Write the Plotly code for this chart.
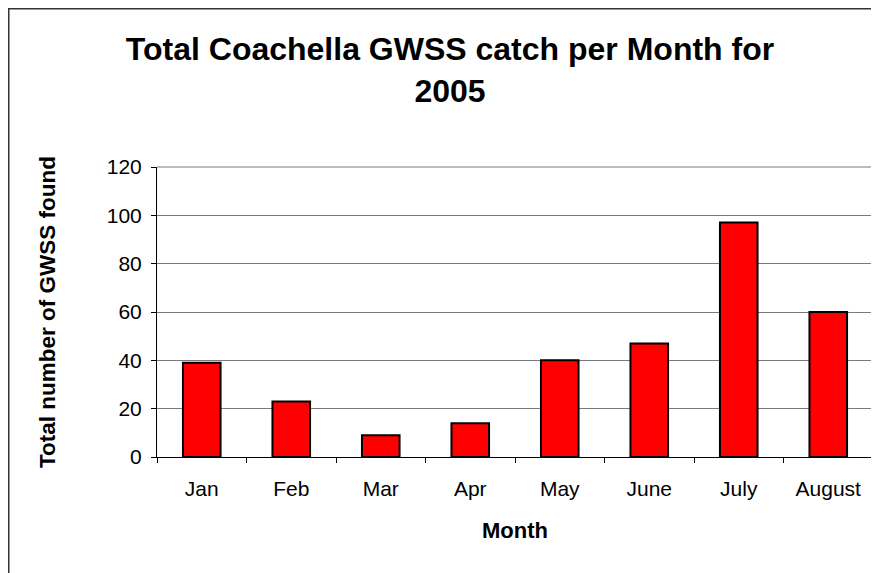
import plotly.graph_objects as go

months = ['Jan', 'Feb', 'Mar', 'Apr', 'May', 'June', 'July', 'August']
catch = [39, 23, 9, 14, 40, 47, 97, 60]
y_ticks = [0, 20, 40, 60, 80, 100, 120]

# the page body adds an 8px margin, so the figure is laid out 8px smaller
W, H = 871, 565
L, R, T, B = 149, 865, 159, 449   # plot area in figure pixels

def px(x):
    return (x - L) / (R - L)

def py(y):
    return (B - y) / (B - T)

font = 'Arial, Liberation Sans, sans-serif'

fig = go.Figure()
fig.add_trace(go.Bar(x=months, y=catch, marker_color='#ff0000',
                     marker_line=dict(color='black', width=2)))

fig.update_xaxes(
    showline=True, linecolor='black', linewidth=1,
    ticks='outside', ticklen=5, tickcolor='black', tickson='boundaries',
    ticklabelstandoff=13,
    tickfont=dict(family=font, size=21, color='black'),
    title=dict(text='<b>Month</b>', font=dict(family=font, size=22, color='black'), standoff=23),
)
fig.update_yaxes(
    range=[0, 120], tickvals=y_ticks,
    showline=True, linecolor='black', linewidth=1,
    ticks='outside', ticklen=5, tickcolor='black',
    ticklabelstandoff=5,
    showgrid=True, gridcolor='#7a7a7a', gridwidth=1, zeroline=False,
    tickfont=dict(family=font, size=21, color='black'),
    title=dict(text='<b>Total number of GWSS found</b>', font=dict(family=font, size=22.5, color='black'), standoff=44),
)

# plot-area border (top and right) and outer chart frame (left and top)
shapes = [
    dict(type='line', xref='paper', yref='paper', x0=0, x1=1, y0=1, y1=1,
         line=dict(color='#7a7a7a', width=1)),
    dict(type='line', xref='paper', yref='paper', x0=1, x1=1, y0=0, y1=1,
         line=dict(color='#7a7a7a', width=1.5)),
    dict(type='line', xref='paper', yref='paper', x0=px(0), x1=px(W), y0=py(0.75), y1=py(0.75),
         line=dict(color='#333333', width=1.5)),
    dict(type='line', xref='paper', yref='paper', x0=px(0.75), x1=px(0.75), y0=py(0), y1=py(H),
         line=dict(color='#333333', width=1.5)),
]

fig.update_layout(
    width=W, height=H,
    margin=dict(l=L, r=W - R, t=T, b=H - B),
    paper_bgcolor='white', plot_bgcolor='white',
    bargap=0.58, showlegend=False,
    shapes=shapes,
    title=dict(text='<b>Total Coachella GWSS catch per Month for<br>2005</b>',
               font=dict(family=font, size=32, color='black'),
               x=442 / W, xanchor='center', y=1 - 52 / H, yanchor='middle'),
)

fig.write_html("out.html")
